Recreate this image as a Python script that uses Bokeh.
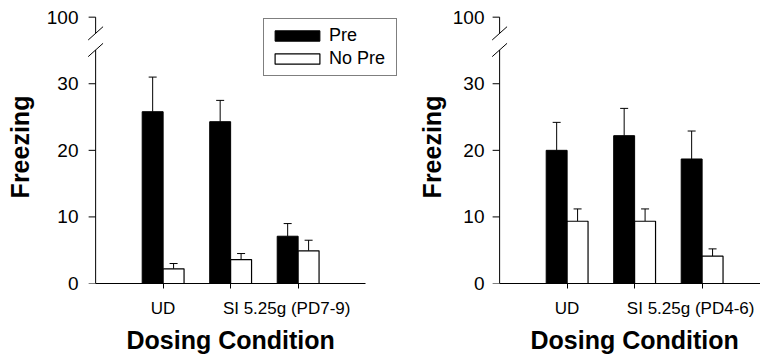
from bokeh.plotting import figure
from bokeh.models import (ColumnDataSource, FixedTicker, Range1d, Legend, LegendItem,
                          Whisker, TeeHead, LinearAxis)
from bokeh.layouts import row
from bokeh.embed import file_html
from bokeh.resources import INLINE

# ---------------- data ----------------
groups = [1, 2, 3]
left_labels = ["UD", "SI 5.25g (PD7-9)"]
right_labels = ["UD", "SI 5.25g (PD4-6)"]
series_names = ["Pre", "No Pre"]

left_pre = [25.8, 24.3, 7.1]
left_pre_err = [5.2, 3.2, 1.9]
left_nopre = [2.2, 3.6, 4.9]
left_nopre_err = [0.8, 0.9, 1.6]

right_pre = [20.0, 22.2, 18.7]
right_pre_err = [4.2, 4.1, 4.2]
right_nopre = [9.35, 9.35, 4.1]
right_nopre_err = [1.85, 1.85, 1.1]

y_ticks = [0, 10, 20, 30, 40]
y_tick_overrides = {40: "100"}
x_axis_title = "Dosing Condition"
y_axis_title = "Freezing"

# ---------------- layout constants ----------------
FONT = "Liberation Sans"
BW = 0.31            # bar width (data units)
PX = 67.5            # px per x unit
TICK = 7 / PX        # y tick length in x data units
LABEL_X = [1, 2.83]  # x-positions of the category labels
BREAK_LO, BREAK_HI = 35.07, 37.57
SLASH_DX, SLASH_DY = 0.11, 1.0
H = 356
TOP = 10
FRAME_H = 274


def make_panel(pre, pre_err, nopre, nopre_err, labels, width, bl, br, xmax,
               ylab_standoff, tick_standoff, legend=False):
    p = figure(width=width, height=H, output_backend="svg", toolbar_location=None,
               x_range=Range1d(-0.15, xmax), y_range=Range1d(0, 41),
               min_border_left=bl, min_border_right=br, min_border_top=TOP,
               min_border_bottom=H - TOP - FRAME_H)
    p.outline_line_color = None
    p.grid.visible = False
    p.background_fill_color = "white"
    p.border_fill_color = "white"

    src = ColumnDataSource(dict(
        xp=[g - BW / 2 for g in groups], xn=[g + BW / 2 for g in groups],
        pre=pre, pre_top=[m + e for m, e in zip(pre, pre_err)],
        nopre=nopre, nopre_top=[m + e for m, e in zip(nopre, nopre_err)]))

    r_pre = p.vbar(x="xp", top="pre", bottom=0, width=BW, source=src,
                   fill_color="black", line_color="black", line_width=1)
    r_nop = p.vbar(x="xn", top="nopre", bottom=0, width=BW, source=src,
                   fill_color="white", line_color="black", line_width=1.2)

    for base, lo, hi in (("xp", "pre", "pre_top"), ("xn", "nopre", "nopre_top")):
        w = Whisker(source=src, base=base, lower=lo, upper=hi, dimension="height",
                    line_color="black", line_width=1,
                    upper_head=TeeHead(size=8, line_color="black", line_width=1),
                    lower_head=None)
        p.add_layout(w)

    # manual broken y-axis line, ticks and break slashes
    tsrc = ColumnDataSource(dict(x0=[-TICK] * len(y_ticks), x1=[0] * len(y_ticks),
                                 y0=y_ticks, y1=y_ticks))
    p.segment("x0", "y0", "x1", "y1", source=tsrc, line_color="black", line_width=1)
    asrc = ColumnDataSource(dict(
        x0=[0, 0, -SLASH_DX, -SLASH_DX],
        y0=[0, BREAK_HI, BREAK_LO - SLASH_DY, BREAK_HI - SLASH_DY],
        x1=[0, 0, SLASH_DX, SLASH_DX],
        y1=[BREAK_LO, y_ticks[-1], BREAK_LO + SLASH_DY, BREAK_HI + SLASH_DY]))
    p.segment("x0", "y0", "x1", "y1", source=asrc, line_color="black", line_width=1)

    # y axis: labels only
    ya = p.yaxis[0]
    ya.ticker = FixedTicker(ticks=y_ticks)
    ya.major_label_overrides = y_tick_overrides
    ya.axis_line_color = None
    ya.major_tick_line_color = None
    ya.minor_tick_line_color = None
    ya.major_tick_out = 0
    ya.major_tick_in = 0
    ya.major_label_standoff = tick_standoff
    ya.major_label_text_font = FONT
    ya.major_label_text_font_size = "19px"
    ya.major_label_text_color = "black"
    ya.axis_label = y_axis_title
    ya.axis_label_text_font = FONT
    ya.axis_label_text_font_style = "bold"
    ya.axis_label_text_font_size = "25px"
    ya.axis_label_text_color = "black"
    ya.axis_label_standoff = ylab_standoff

    # x axis: line, tick marks at groups (minor), labels at LABEL_X (major)
    xa = p.xaxis[0]
    xa.ticker = FixedTicker(ticks=LABEL_X, minor_ticks=groups)
    xa.bounds = (0, 4)
    xa.major_label_overrides = {x: t for x, t in zip(LABEL_X, labels)}
    xa.major_label_text_font = FONT
    xa.major_label_text_font_size = "17px"
    xa.major_label_text_color = "black"
    xa.major_label_standoff = 10
    xa.axis_line_color = "black"
    xa.major_tick_line_color = None
    xa.major_tick_out = 5
    xa.major_tick_in = 0
    xa.minor_tick_line_color = "black"
    xa.minor_tick_out = 5
    xa.minor_tick_in = 0

    # x-axis title, centred on the middle group
    mid = groups[len(groups) // 2]
    ax2 = LinearAxis(ticker=FixedTicker(ticks=[mid]),
                     major_label_overrides={mid: x_axis_title},
                     axis_line_color=None, major_tick_line_color=None,
                     minor_tick_line_color=None, major_tick_out=0, major_tick_in=0,
                     major_label_standoff=5, major_label_text_font=FONT,
                     major_label_text_font_style="bold",
                     major_label_text_font_size="25px",
                     major_label_text_color="black")
    p.add_layout(ax2, "below")

    if legend:
        lg = Legend(items=[LegendItem(label=series_names[0], renderers=[r_pre]),
                           LegendItem(label=series_names[1], renderers=[r_nop])],
                    location=(178, 207), padding=5, spacing=0,
                    glyph_width=56, glyph_height=13, label_height=23, label_width=62,
                    label_standoff=4, label_text_font=FONT, label_text_font_size="18px",
                    label_text_color="black", border_line_color="black",
                    border_line_width=1, background_fill_color="white",
                    background_fill_alpha=1, margin=0)
        p.add_layout(lg)
    return p


p1 = make_panel(left_pre, left_pre_err, left_nopre, left_nopre_err, left_labels,
                width=410, bl=85, br=2, xmax=4.635, ylab_standoff=10, tick_standoff=7,
                legend=True)
p2 = make_panel(right_pre, right_pre_err, right_nopre, right_nopre_err, right_labels,
                width=350, bl=79, br=0, xmax=3.865, ylab_standoff=4, tick_standoff=5)

layout = row(p1, p2)
open("out.html", "w").write(file_html(layout, INLINE))
